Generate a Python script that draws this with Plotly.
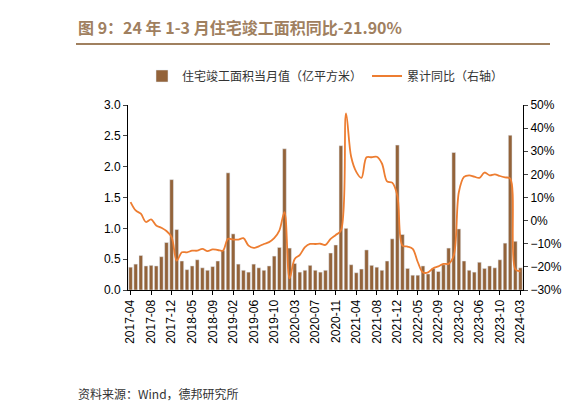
import plotly.graph_objects as go

# months (Jan merged into Feb, so no January entries)
months = ["2017-%02d" % m for m in range(4, 13)]
for y in range(2018, 2024):
    months += ["%d-%02d" % (y, m) for m in range(2, 13)]
months += ["2024-02", "2024-03"]

# 住宅竣工面积当月值 (亿平方米)
monthly = [0.37, 0.42, 0.56, 0.39, 0.40, 0.39, 0.54, 0.77, 1.79,
           0.98, 0.47, 0.33, 0.39, 0.49, 0.36, 0.32, 0.38, 0.47, 0.64, 1.90,
           0.91, 0.42, 0.32, 0.29, 0.42, 0.36, 0.32, 0.39, 0.55, 0.69, 2.29,
           0.68, 0.43, 0.29, 0.32, 0.40, 0.32, 0.29, 0.32, 0.60, 0.73, 2.34,
           1.00, 0.41, 0.28, 0.34, 0.65, 0.40, 0.37, 0.32, 0.47, 0.83, 2.35,
           0.90, 0.35, 0.24, 0.24, 0.39, 0.26, 0.35, 0.30, 0.41, 0.68, 2.23,
           0.99, 0.47, 0.32, 0.29, 0.45, 0.35, 0.39, 0.36, 0.49, 0.76, 2.51,
           0.79, 0.36]

# 累计同比 (%)
yoy = [8.0, 4.4, 3.0, -0.6, 0.5, -2.1, -3.1, -4.5, -7.1,
       -17.3, -13.7, -13.7, -13.0, -13.0, -12.2, -13.2, -12.4, -12.7, -13.0, -7.9,
       -8.2, -8.2, -7.6, -10.8, -11.8, -11.1, -10.1, -9.3, -7.6, -4.3, 3.7,
       -25.0, -16.6, -14.8, -11.5, -10.1, -10.1, -10.0, -10.5, -7.9, -6.2, -4.3,
       46.4, 27.6, 21.1, 18.5, 27.4, 27.4, 27.6, 24.7, 17.0, 16.4, 10.9,
       -10.8, -11.2, -12.2, -18.0, -22.4, -22.4, -20.6, -19.8, -18.7, -18.7, -15.1,
       12.4, 18.9, 19.6, 19.0, 18.5, 20.8, 19.6, 20.0, 19.3, 18.7, 18.2,
       -21.0, -21.9]

tick_labels = months[::4]

W, H = 582, 406
L, R, T, B = 120, 67, 97, 124
pw, ph = W - L - R, H - T - B

def px_x(x):
    return (x - L) / pw

def px_y(y):
    return (H - B - y) / ph

fig = go.Figure()
fig.add_trace(go.Bar(x=months, y=monthly, name="住宅竣工面积当月值（亿平方米）",
                     marker_color="#93633A", width=0.72))
fig.add_trace(go.Scatter(x=months, y=yoy, name="累计同比（右轴）", yaxis="y2",
                         mode="lines", line=dict(color="#ED7D31", width=1.8, shape="spline")))

axfont = dict(family="Arial", size=12, color="black")
fig.update_layout(
    width=W, height=H, autosize=False,
    margin=dict(l=L, r=R, t=T, b=B),
    plot_bgcolor="white", paper_bgcolor="white",
    font=dict(family="Noto Sans CJK SC", size=12, color="#333"),
    legend=dict(orientation="h", x=0.5, xanchor="center", y=px_y(68), yanchor="middle",
                font=dict(size=12), traceorder="normal"),
    xaxis=dict(type="category", tickmode="array", tickvals=tick_labels, ticktext=tick_labels,
               tickangle=-90, showline=True, linecolor="black", ticks="outside",
               ticklen=4, tickcolor="black", tickfont=axfont),
    yaxis=dict(range=[0, 3.0], dtick=0.5, tickformat=".1f", showgrid=False,
               showline=True, linecolor="black", ticks="outside", ticklen=4, tickfont=axfont),
    yaxis2=dict(range=[-30, 50], dtick=10, ticksuffix="%", overlaying="y", side="right",
                showgrid=False, zeroline=False, showline=True, linecolor="black",
                ticks="outside", ticklen=4, tickfont=axfont),
    annotations=[
        dict(text="<b>图 9：24 年 1-3 月住宅竣工面积同比-21.90%</b>", x=px_x(68), y=px_y(19),
             xref="paper", yref="paper", showarrow=False, xanchor="left", yanchor="middle",
             font=dict(size=16, color="#A0805F")),
        dict(text="资料来源：Wind，德邦研究所", x=px_x(68), y=px_y(385),
             xref="paper", yref="paper", showarrow=False,
             xanchor="left", yanchor="middle", font=dict(size=12, color="#333")),
    ],
    shapes=[dict(type="line", xref="paper", yref="paper",
                 x0=px_x(68), x1=px_x(542), y0=px_y(36), y1=px_y(36),
                 line=dict(color="#A0805F", width=2))],
)

fig.write_html("out.html")
